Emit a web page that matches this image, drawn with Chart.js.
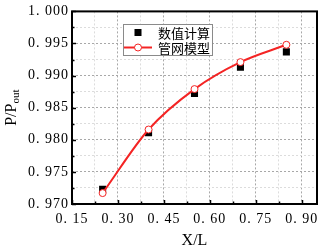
<!DOCTYPE html>
<html>
<head>
<meta charset="utf-8">
<script src="https://cdn.jsdelivr.net/npm/chart.js@4/dist/chart.umd.min.js"></script>
<style>
  body { margin: 0; background: #fff; }
  canvas { display: block; }
</style>
</head>
<body>
<canvas id="chart" width="323" height="248"></canvas>
<script>
const xVals = [0.25, 0.40, 0.55, 0.70, 0.85];
const numericVals = [0.9723, 0.9811, 0.9872, 0.9913, 0.9937];
const networkVals = [0.9717, 0.9816, 0.9879, 0.9921, 0.9948];
const seriesNames = ['数值计算', '管网模型'];
const xMajor = [0.15, 0.30, 0.45, 0.60, 0.75, 0.90];
const yMajor = [0.970, 0.975, 0.980, 0.985, 0.990, 0.995, 1.000];
const xTitle = 'X/L';
const yTitle = ['P/P', 'out'];

const RED = '#f42424';
const SERIF = '"Liberation Serif", "Times New Roman", serif';

function withMinors(majors, step, min, max) {
  const out = [];
  majors.forEach(v => {
    out.push({ value: v, major: true });
    const m = +(v + step / 2).toFixed(6);
    if (m < max) out.push({ value: m, major: false });
  });
  return out.filter(t => t.value >= min - 1e-9 && t.value <= max + 1e-9);
}

const frame = {
  id: 'frame',
  beforeDraw(chart) { chart.ctx.letterSpacing = '1px'; },
  beforeDatasetsDraw(chart) { chart.ctx.letterSpacing = '0px'; },
  afterDraw(chart) {
    const { ctx, chartArea: a, scales } = chart;
    ctx.save();
    ctx.letterSpacing = '0px';
    // inward ticks
    ctx.strokeStyle = '#000';
    ctx.lineWidth = 1.5;
    scales.x.ticks.forEach(t => {
      const px = Math.round(scales.x.getPixelForValue(t.value)) + 0.5;
      const len = t.major ? 4 : 2.5;
      ctx.beginPath(); ctx.moveTo(px, a.bottom); ctx.lineTo(px, a.bottom - len); ctx.stroke();
    });
    scales.y.ticks.forEach(t => {
      const py = Math.round(scales.y.getPixelForValue(t.value)) + 0.5;
      const len = t.major ? 4 : 2.5;
      ctx.beginPath(); ctx.moveTo(a.left, py); ctx.lineTo(a.left + len, py); ctx.stroke();
    });
    // frame
    ctx.lineWidth = 2;
    ctx.strokeRect(a.left, a.top, a.right - a.left, a.bottom - a.top);

    // axis titles
    ctx.fillStyle = '#000';
    ctx.font = '16px ' + SERIF;
    ctx.textAlign = 'center';
    ctx.textBaseline = 'middle';
    ctx.fillText(xTitle, (a.left + a.right) / 2, 241);

    ctx.save();
    ctx.translate(11, (a.top + a.bottom) / 2);
    ctx.rotate(-Math.PI / 2);
    ctx.textAlign = 'left';
    ctx.textBaseline = 'alphabetic';
    ctx.font = '16px ' + SERIF;
    const w1 = ctx.measureText(yTitle[0]).width;
    ctx.font = '11px ' + SERIF;
    const w2 = ctx.measureText(yTitle[1]).width;
    const x0 = -(w1 + w2) / 2;
    ctx.font = '16px ' + SERIF;
    ctx.fillText(yTitle[0], x0, 5);
    ctx.font = '11px ' + SERIF;
    ctx.fillText(yTitle[1], x0 + w1, 8);
    ctx.restore();

    // legend
    const ds = chart.data.datasets;
    const lx = 123, ly = 24, lw = 89, lh = 31;
    ctx.fillStyle = '#fff';
    ctx.fillRect(lx, ly, lw, lh);
    ctx.strokeStyle = '#8a8a8a';
    ctx.lineWidth = 1;
    ctx.strokeRect(lx + 0.5, ly + 0.5, lw, lh);
    // square entry
    ctx.fillStyle = ds[0].backgroundColor;
    ctx.fillRect(134.5, 29, 7, 7);
    // line entry
    ctx.strokeStyle = ds[1].borderColor;
    ctx.lineWidth = 2;
    ctx.beginPath(); ctx.moveTo(124, 47.5); ctx.lineTo(152, 47.5); ctx.stroke();
    ctx.beginPath(); ctx.arc(138, 47.5, 3.5, 0, Math.PI * 2);
    ctx.fillStyle = '#fff'; ctx.fill();
    ctx.lineWidth = 1; ctx.stroke();
    ctx.fillStyle = '#000';
    ctx.font = '13px "Noto Sans CJK SC", sans-serif';
    ctx.textAlign = 'left';
    ctx.textBaseline = 'middle';
    ctx.fillText(ds[0].label, 158, 33);
    ctx.fillText(ds[1].label, 158, 48);
    ctx.restore();
  }
};

function gridColor(c) {
  if (!c.tick) return 'rgba(0,0,0,0)';
  return c.tick.major ? '#a8a8a8' : '#dcdcdc';
}

new Chart(document.getElementById('chart'), {
  type: 'scatter',
  data: {
    datasets: [
      {
        label: seriesNames[0],
        data: xVals.map((x, i) => ({ x, y: numericVals[i] })),
        backgroundColor: '#000',
        borderColor: '#000',
        pointStyle: 'rect',
        pointRadius: 5,
        borderWidth: 0,
        order: 1
      },
      {
        label: seriesNames[1],
        data: xVals.map((x, i) => ({ x, y: networkVals[i] })),
        showLine: true,
        borderColor: RED,
        borderWidth: 2,
        cubicInterpolationMode: 'monotone',
        pointRadius: 3.5,
        pointBorderWidth: 1,
        pointBackgroundColor: '#fff',
        pointBorderColor: RED,
        order: 0
      }
    ]
  },
  options: {
    responsive: false,
    animation: false,
    devicePixelRatio: 1,
    layout: { padding: { top: 6.5, right: 2.5, left: 0, bottom: 0 } },
    plugins: { legend: { display: false }, tooltip: { enabled: false } },
    scales: {
      x: {
        type: 'linear',
        min: 0.15,
        max: 0.95,
        afterBuildTicks(s) { s.ticks = withMinors(xMajor, 0.15, 0.15, 0.95); },
        afterFit(s) { s.height = 44; },
        grid: { color: gridColor, lineWidth: 1, drawTicks: false },
        border: { display: false, dash: [2, 2] },
        ticks: {
          autoSkip: false,
          maxRotation: 0,
          padding: 7,
          color: '#000',
          font: { family: SERIF, size: 14 },
          callback(v, i, ticks) {
            return ticks[i].major ? v.toFixed(2).replace('.', '. ') : '';
          }
        }
      },
      y: {
        min: 0.970,
        max: 1.000,
        afterBuildTicks(s) { s.ticks = withMinors(yMajor, 0.005, 0.970, 1.000); },
        afterFit(s) { s.width = 72; },
        grid: { color: gridColor, lineWidth: 1, drawTicks: false },
        border: { display: false, dash: [2, 2] },
        ticks: {
          autoSkip: false,
          padding: 3,
          color: '#000',
          font: { family: SERIF, size: 14 },
          callback(v, i, ticks) {
            return ticks[i].major ? v.toFixed(3).replace('.', '. ') : '';
          }
        }
      }
    }
  },
  plugins: [frame]
});
</script>
</body>
</html>
